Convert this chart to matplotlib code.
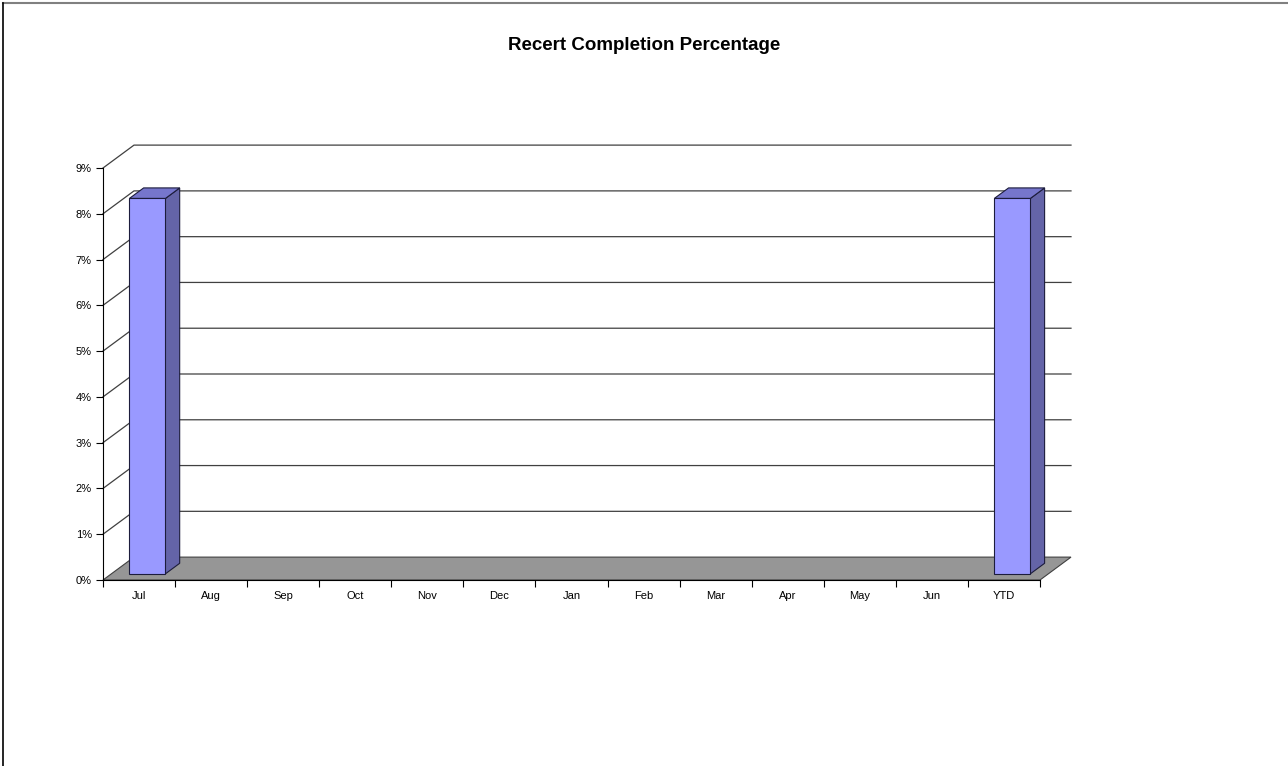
import matplotlib.pyplot as plt
from matplotlib.patches import Polygon
from matplotlib.lines import Line2D
from matplotlib.ticker import FuncFormatter

plt.rcParams['font.family'] = ['Liberation Sans', 'DejaVu Sans']

# data
months = ['Jul', 'Aug', 'Sep', 'Oct', 'Nov', 'Dec', 'Jan', 'Feb', 'Mar',
          'Apr', 'May', 'Jun', 'YTD']
completion = [8.2, 0, 0, 0, 0, 0, 0, 0, 0, 0, 0, 0, 8.2]   # percent
y_ticks = list(range(0, 10))

# 3d look: depth offset of the back wall in data units
DX, DY = 0.43, 0.5
D0, D1 = 0.27, 0.73      # bar depth span as fraction of the floor depth
BAR_W = 0.5

W, H = 1288, 766
fig = plt.figure(figsize=(W / 100, H / 100), dpi=100)
ax = fig.add_axes([103 / W, (H - 580) / H, 937 / W, 412 / H])
n = len(months)
ax.set_xlim(-0.5, n - 0.5)
ax.set_ylim(0, 9)

# floor
floor = Polygon([(-0.5, 0), (n - 0.5, 0), (n - 0.5 + DX, DY), (-0.5 + DX, DY)],
                closed=True, facecolor='#969696', edgecolor='#404040',
                lw=0.8, clip_on=False, zorder=1)
ax.add_patch(floor)

# gridlines on side wall + back wall
for t in y_ticks[1:]:
    ax.plot([-0.5, -0.5 + DX, n - 0.5 + DX], [t, t + DY, t + DY],
            color='#404040', lw=0.9, clip_on=False, zorder=0.5)

# bars
for i, v in enumerate(completion):
    if v <= 0:
        continue
    x0 = i - BAR_W / 2 + D0 * DX
    x1 = i + BAR_W / 2 + D0 * DX
    yb = D0 * DY
    yt = v + D0 * DY
    ddx = (D1 - D0) * DX
    ddy = (D1 - D0) * DY
    front = [(x0, yb), (x1, yb), (x1, yt), (x0, yt)]
    side = [(x1, yb), (x1 + ddx, yb + ddy), (x1 + ddx, yt + ddy), (x1, yt)]
    top = [(x0, yt), (x1, yt), (x1 + ddx, yt + ddy), (x0 + ddx, yt + ddy)]
    for pts, col in [(side, '#6464A8'), (top, '#7676CC'), (front, '#9999FF')]:
        ax.add_patch(Polygon(pts, closed=True, facecolor=col,
                             edgecolor='#1c1c3c', lw=0.8, clip_on=False,
                             zorder=3))

# axes styling
for s in ['top', 'right']:
    ax.spines[s].set_visible(False)
ax.spines['left'].set_color('black')
ax.spines['bottom'].set_color('black')
ax.spines['left'].set_zorder(4)
ax.spines['bottom'].set_zorder(4)
ax.set_yticks(y_ticks)
ax.yaxis.set_major_formatter(FuncFormatter(lambda v, p: '%d%%' % v))
ax.tick_params(axis='y', direction='out', length=5, width=0.8,
               labelsize=8, pad=3)
ax.set_xticks([i - 0.5 for i in range(n + 1)])
ax.set_xticklabels([])
ax.set_xticks(range(n), minor=True)
ax.set_xticklabels(months, minor=True)
ax.tick_params(axis='x', which='major', direction='out', length=5, width=0.8)
ax.tick_params(axis='x', which='minor', length=0, labelsize=8, pad=8)
ax.patch.set_visible(False)

fig.text(0.5, 1 - 46 / H, 'Recert Completion Percentage', ha='center',
         va='center', fontsize=13.5, fontweight='bold')

# chart area frame
fig.add_artist(Line2D([3 / W, 1], [1 - 3 / H, 1 - 3 / H], color='#808080',
                      lw=1.5, transform=fig.transFigure))
fig.add_artist(Line2D([3 / W, 3 / W], [0, 1 - 3 / H], color='black',
                      lw=1.2, transform=fig.transFigure))

fig.savefig('out.png', dpi=100)
